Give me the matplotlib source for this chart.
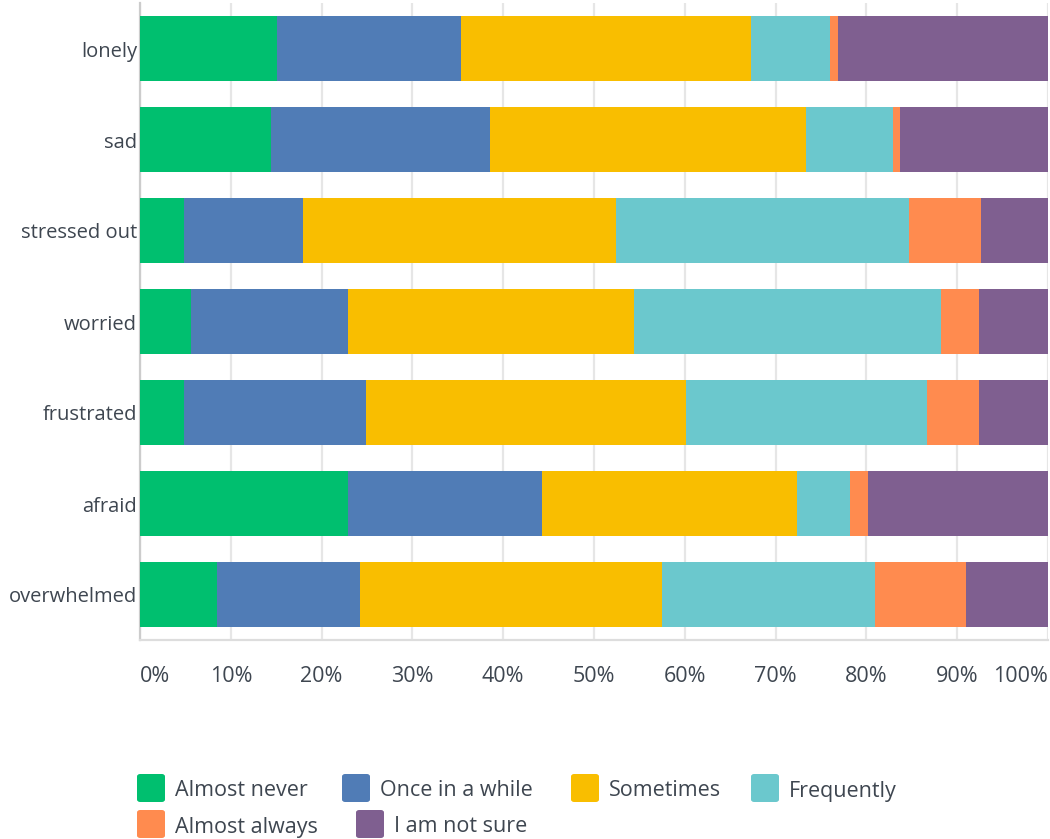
import matplotlib
matplotlib.use("Agg")
import matplotlib.pyplot as plt
from matplotlib.patches import FancyBboxPatch
import matplotlib.transforms as mtransforms
import numpy as np

categories = ["lonely", "sad", "stressed out", "worried", "frustrated", "afraid", "overwhelmed"]
series_names = ["Almost never", "Once in a while", "Sometimes", "Frequently", "Almost always", "I am not sure"]
almost_never = [15.1, 14.4, 4.8, 5.6, 4.8, 22.9, 8.5]
once_in_a_while = [20.3, 24.1, 13.1, 17.3, 20.1, 21.4, 15.7]
sometimes = [31.9, 34.9, 34.5, 31.5, 35.2, 28.1, 33.3]
frequently = [8.7, 9.5, 32.3, 33.8, 26.6, 5.8, 23.5]
almost_always = [0.9, 0.8, 7.9, 4.2, 5.7, 2.0, 10.0]
not_sure = [23.1, 16.3, 7.4, 7.6, 7.6, 19.8, 9.0]
tick_values = [0, 10, 20, 30, 40, 50, 60, 70, 80, 90, 100]
tick_labels = ["0%", "10%", "20%", "30%", "40%", "50%", "60%", "70%", "80%", "90%", "100%"]

colors = ["#00BF6F", "#507CB6", "#F9BE00", "#6BC8CD", "#FF8B4F", "#7F5F90"]
text_color = "#3E4650"
FONT = "Open Sans"

W, H = 1050, 839
fig = plt.figure(figsize=(W / 100, H / 100), dpi=100)
ax = fig.add_axes([140 / W, 1 - 640 / H, (1048 - 140) / W, (640 - 3) / H])

series = [almost_never, once_in_a_while, sometimes, frequently, almost_always, not_sure]
y = np.arange(len(categories))
left = np.zeros(len(categories))
for vals, col, name in zip(series, colors, series_names):
    vals = np.array(vals)
    ax.barh(y, vals, left=left, height=0.71, color=col, label=name, zorder=3, linewidth=0)
    left += vals

ax.set_xlim(0, 100)
ax.set_ylim(6.5, -0.5)
ax.set_xticks(tick_values)
ax.set_xticklabels([])
ax.tick_params(axis="x", length=0)
ax.set_yticks(y)
ax.set_yticklabels([])
ax.tick_params(axis="y", length=0)
ax.xaxis.grid(True, color="#E6E6E6", linewidth=1.6, zorder=0)
for s in ["top", "right"]:
    ax.spines[s].set_visible(False)
ax.spines["left"].set_color("#CCCCCC")
ax.spines["left"].set_linewidth(1.6)
ax.spines["bottom"].set_color("#DDDDDD")
ax.spines["bottom"].set_linewidth(1.6)

# category labels drawn above the bars (they overlap in the reference)
label_tr = mtransforms.blended_transform_factory(fig.transFigure, ax.transData)
label_tr = label_tr + mtransforms.ScaledTranslation(0, -3 / 100, fig.dpi_scale_trans)
for yi, cat in zip(y, categories):
    fig.text(137 / W, yi, cat, transform=label_tr, ha="right", va="center",
             fontsize=14.5, color=text_color, family=FONT, zorder=10)

# x tick labels (first/last shifted inward)
for v, lab in zip(tick_values, tick_labels):
    ha = "center"
    if v == tick_values[0]:
        ha = "left"
    elif v == tick_values[-1]:
        ha = "right"
    xpix = 140 + (1048 - 140) * v / 100
    fig.text(xpix / W, 1 - 676 / H, lab, ha=ha, va="center", fontsize=15.5,
             color=text_color, family=FONT)

# legend (flow layout positions)
legend_pos = [(137, 788), (342, 788), (571, 788), (751, 788), (137, 824), (356, 824)]
for (px, py), name, col in zip(legend_pos, series_names, colors):
    sq = FancyBboxPatch((px / W, 1 - (py + 14) / H), 28 / W, 28 / H,
                        boxstyle="round,pad=0,rounding_size=0.003",
                        transform=fig.transFigure, facecolor=col, edgecolor="none")
    fig.patches.append(sq)
    fig.text((px + 38) / W, 1 - (py + 3) / H, name, ha="left", va="center", fontsize=15.5,
             color=text_color, family=FONT)

fig.savefig("out.png", dpi=100)
